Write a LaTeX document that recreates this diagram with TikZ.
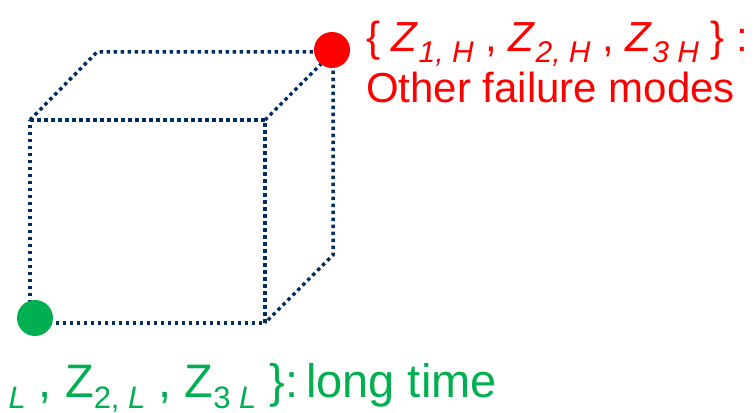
\documentclass[tikz,border=0pt]{standalone}
\usepackage{fontspec}
\setmainfont{Liberation Sans}
\definecolor{cubeblue}{RGB}{0,45,98}
\definecolor{hired}{RGB}{255,0,0}
\definecolor{logreen}{RGB}{0,176,80}
\newcommand{\sbs}[2]{\raisebox{-0.25em}{\fontsize{#1}{#1}\selectfont #2}}
\begin{document}
\begin{tikzpicture}[x=1pt, y=-1pt,
	edge/.style={cubeblue, line width=3.5pt, dash pattern=on 3.5pt off 3.5pt},
	corner/.style={circle, fill=#1, minimum size=36pt, inner sep=0pt},
	label/.style={inner sep=0pt, text=#1}]
	\useasboundingbox (0,0) rectangle (754,412);
	\clip (0,0) rectangle (754,412);
	% front face
	\coordinate (f1) at (30,120);
	\coordinate (f2) at (265,120);
	\coordinate (f3) at (265,323);
	\coordinate (f4) at (30,323);
	% back face
	\coordinate (b1) at (97,52);
	\coordinate (b2) at (333,52);
	\coordinate (b3) at (333,255);
	\draw[edge] (f1)--(f2)--(f3)--(f4)--cycle;
	\draw[edge] (f1)--(b1)--(b2)--(b3)--(f3);
	\draw[edge] (f2)--(b2);
	\node[corner=hired] (hi) at (332,50) {};
	\node[corner=logreen] (lo) at (35,318) {};
		\node[label=hired, anchor=base west, font=\fontsize{42}{50}\selectfont] (hitxt) at (366,52) {\{ \textit{Z}\sbs{30}{\textit{1, H}} , \textit{Z}\sbs{30}{\textit{2, H}} , \textit{Z}\sbs{30}{\textit{3 H}} \} :};
		\node[label=hired, anchor=base west, font=\fontsize{42}{50}\selectfont] (himode) at (366,102) {Other failure modes};
		\node[label=logreen, anchor=base east, font=\fontsize{47}{55}\selectfont] (lotxt) at (497,397) {\{ Z\sbs{31}{1, \textit{L}} , Z\sbs{31}{2, \textit{L}} , Z\sbs{31}{3 \textit{L}} \}:\,long time};
\end{tikzpicture}
\end{document}
